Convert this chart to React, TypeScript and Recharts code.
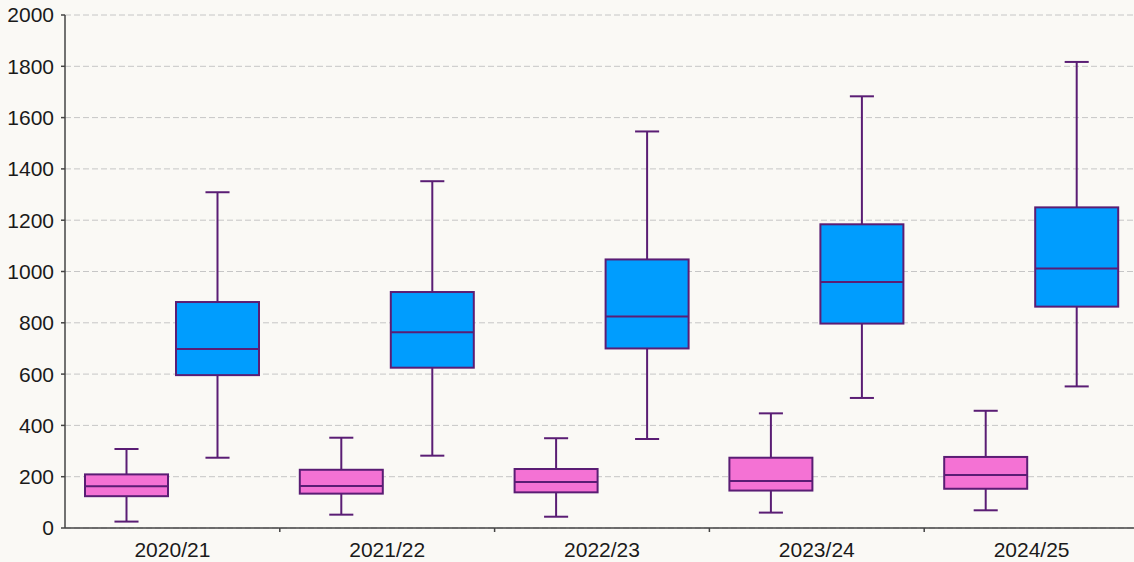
import React from "react";
import {
  Bar,
  CartesianGrid,
  ComposedChart,
  XAxis,
  YAxis,
} from "recharts";

const categories = ["2020/21", "2021/22", "2022/23", "2023/24", "2024/25"];

const pinkMin = [25, 52, 44, 60, 69];
const pinkQ1 = [124, 134, 139, 146, 153];
const pinkMedian = [163, 164, 179, 183, 207];
const pinkQ3 = [209, 227, 230, 274, 277];
const pinkMax = [308, 352, 350, 447, 457];

const blueMin = [274, 282, 347, 507, 552];
const blueQ1 = [596, 625, 700, 797, 863];
const blueMedian = [698, 763, 825, 959, 1012];
const blueQ3 = [881, 920, 1047, 1184, 1250];
const blueMax = [1309, 1352, 1546, 1683, 1817];

const yTicks = [0, 200, 400, 600, 800, 1000, 1200, 1400, 1600, 1800, 2000];

const data = categories.map((category, i) => ({
  category,
  pink: [pinkMin[i], pinkMax[i]],
  pinkStats: {
    min: pinkMin[i],
    q1: pinkQ1[i],
    median: pinkMedian[i],
    q3: pinkQ3[i],
    max: pinkMax[i],
  },
  blue: [blueMin[i], blueMax[i]],
  blueStats: {
    min: blueMin[i],
    q1: blueQ1[i],
    median: blueMedian[i],
    q3: blueQ3[i],
    max: blueMax[i],
  },
}));

const STROKE = "#5a1d74";
const AXIS = "#444";
const FONT = "'Liberation Sans', Arial, sans-serif";
const X_TICK_SIZE = 5;
const X_TICK_MARGIN = 9;

function BoxShape(props: any) {
  const { x, y, width, height, payload, fill, statsKey } = props;
  const s = payload[statsKey];
  const top = Math.min(y, y + height);
  const bottom = Math.max(y, y + height);
  // map a value into pixels using the bar's own min/max extent
  const py = (v: number) =>
    bottom - ((v - s.min) / (s.max - s.min)) * (bottom - top);
  const cx = x + width / 2;
  const capW = width * 0.29;
  return (
    <g>
      <line x1={cx} x2={cx} y1={py(s.max)} y2={py(s.q3)} stroke={STROKE} strokeWidth={2} />
      <line x1={cx} x2={cx} y1={py(s.q1)} y2={py(s.min)} stroke={STROKE} strokeWidth={2} />
      <line x1={cx - capW / 2} x2={cx + capW / 2} y1={py(s.max)} y2={py(s.max)} stroke={STROKE} strokeWidth={2} />
      <line x1={cx - capW / 2} x2={cx + capW / 2} y1={py(s.min)} y2={py(s.min)} stroke={STROKE} strokeWidth={2} />
      <rect
        x={x}
        y={py(s.q3)}
        width={width}
        height={py(s.q1) - py(s.q3)}
        fill={fill}
        stroke={STROKE}
        strokeWidth={2}
      />
      <line x1={x} x2={x + width} y1={py(s.median)} y2={py(s.median)} stroke={STROKE} strokeWidth={2} />
    </g>
  );
}

// category label plus a small tick at the left edge of its band
function CategoryTick(props: any) {
  const { x, y, payload } = props;
  const axisY = y - X_TICK_SIZE - X_TICK_MARGIN;
  const edgeX = x - (payload.offset || 0);
  return (
    <g>
      {payload.index > 0 && (
        <line x1={edgeX} x2={edgeX} y1={axisY} y2={axisY + 4} stroke={AXIS} strokeWidth={1.5} />
      )}
      <text
        x={x}
        y={y}
        dy="0.71em"
        textAnchor="middle"
        fill="#1a1a1a"
        fontSize={21}
        fontFamily={FONT}
      >
        {payload.value}
      </text>
    </g>
  );
}

export default function App() {
  return (
    <div
      style={{
        position: "absolute",
        left: 0,
        top: 0,
        width: 1134,
        height: 562,
        overflow: "hidden",
        background: "#faf9f5",
      }}
    >
      <ComposedChart
        width={1139}
        height={562}
        data={data}
        margin={{ top: 15, right: 0, left: 0, bottom: 0 }}
        barGap={8}
      >
        <CartesianGrid
          vertical={false}
          strokeDasharray="6 3"
          stroke="#c6c6c6"
        />
        <XAxis
          dataKey="category"
          height={34}
          stroke={AXIS}
          strokeWidth={1.5}
          tickLine={false}
          tickSize={X_TICK_SIZE}
          tickMargin={X_TICK_MARGIN}
          tick={<CategoryTick />}
        />
        <YAxis
          width={65}
          domain={[0, 2000]}
          ticks={yTicks}
          tickSize={4}
          tickMargin={7}
          stroke={AXIS}
          strokeWidth={1.5}
          tick={{ fill: "#1a1a1a", fontSize: 21, fontFamily: FONT }}
        />
        <Bar
          dataKey="pink"
          fill="#f472d4"
          barSize={83}
          isAnimationActive={false}
          shape={(p: any) => <BoxShape {...p} statsKey="pinkStats" />}
        />
        <Bar
          dataKey="blue"
          fill="#009dfe"
          barSize={83}
          isAnimationActive={false}
          shape={(p: any) => <BoxShape {...p} statsKey="blueStats" />}
        />
      </ComposedChart>
    </div>
  );
}
